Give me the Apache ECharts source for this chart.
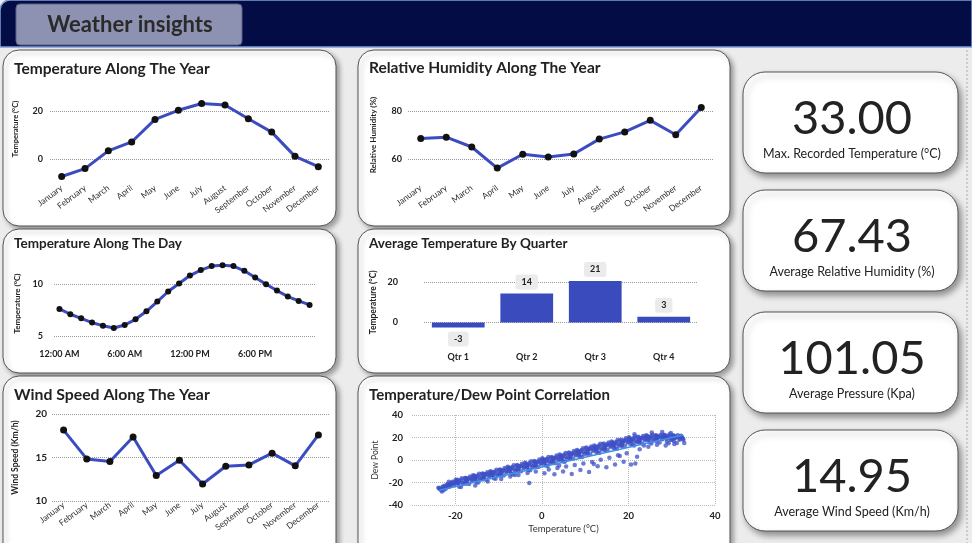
<!DOCTYPE html>
<html>
<head>
<meta charset="utf-8">
<script src="https://cdn.jsdelivr.net/npm/echarts@6/dist/echarts.min.js"></script>
<style>
  html, body { margin: 0; padding: 0; background: #ececec; }
  #main { width: 972px; height: 543px; }
</style>
</head>
<body>
<div id="main"></div>
<script>
// data
const months = ['January', 'February', 'March', 'April', 'May', 'June', 'July', 'August', 'September', 'October', 'November', 'December'];
const tempByMonth = [-7.3, -4.0, 3.4, 7.1, 16.5, 20.3, 23.1, 22.5, 16.8, 11.2, 1.1, -3.2];
const humidityByMonth = [68.5, 69.1, 65.0, 56.2, 62.0, 60.8, 62.1, 68.3, 71.3, 76.1, 70.1, 81.5];
const windByMonth = [18.15, 14.84, 14.53, 17.35, 12.92, 14.69, 11.96, 14.0, 14.15, 15.5, 14.04, 17.6];

const hours = ['12:00 AM', '1:00 AM', '2:00 AM', '3:00 AM', '4:00 AM', '5:00 AM', '6:00 AM', '7:00 AM', '8:00 AM', '9:00 AM', '10:00 AM', '11:00 AM',
  '12:00 PM', '1:00 PM', '2:00 PM', '3:00 PM', '4:00 PM', '5:00 PM', '6:00 PM', '7:00 PM', '8:00 PM', '9:00 PM', '10:00 PM', '11:00 PM'];
const tempByHour = [7.63, 7.11, 6.72, 6.30, 6.00, 5.78, 6.07, 6.62, 7.40, 8.34, 9.32, 10.10,
  10.87, 11.40, 11.79, 11.88, 11.79, 11.33, 10.68, 10.03, 9.41, 8.83, 8.41, 8.02];

const quarters = ['Qtr 1', 'Qtr 2', 'Qtr 3', 'Qtr 4'];
const tempByQuarter = [-2.6, 14.4, 20.6, 2.8];

// temperature / dew point cloud, sampled by eye along the band
const dewPoints = [
  [-23.9,-24.75],[-23.6,-25.65],[-23.3,-26.55],[-23.7,-25.1],[-23.1,-27.9],[-23.4,-26.0],
  [-22.8,-23.65],[-22.5,-22.9],[-22.2,-25.45],[-23.0,-24.2],[-22.4,-24.75],[-22.7,-26.85],
  [-21.7,-21.45],[-21.3,-22.7],[-21.9,-21.8],[-21.5,-24.0],[-21.1,-22.1],[-21.8,-23.35],
  [-21.0,-20.25],[-20.6,-19.3],[-20.2,-21.2],[-20.4,-19.95],[-20.8,-22.65],[-20.1,-20.8],
  [-19.9,-17.5],[-19.6,-19.3],[-19.3,-21.1],[-19.7,-18.2],[-19.1,-23.8],[-19.4,-20.0],
  [-18.8,-17.7],[-18.5,-16.2],[-18.2,-21.3],[-19.0,-18.8],[-18.4,-19.9],[-18.7,-24.1],
  [-17.7,-15.9],[-17.3,-18.4],[-17.9,-16.6],[-17.5,-21.0],[-17.1,-17.2],[-17.8,-19.7],
  [-17.0,-16.5],[-16.6,-14.6],[-16.2,-18.4],[-16.4,-15.9],[-16.8,-21.3],[-16.1,-17.6],
  [-15.9,-13.5],[-15.6,-15.3],[-15.3,-17.1],[-15.7,-14.2],[-15.1,-19.8],[-15.4,-16.0],
  [-14.8,-13.7],[-14.5,-12.2],[-14.2,-17.3],[-15.0,-14.8],[-14.4,-15.9],[-14.7,-20.1],
  [-13.7,-11.9],[-13.3,-14.4],[-13.9,-12.6],[-13.5,-17.0],[-13.1,-13.2],[-13.8,-15.7],
  [-13.0,-12.7],[-12.6,-10.8],[-12.2,-14.6],[-12.4,-12.1],[-12.8,-17.5],[-12.1,-13.8],
  [-11.9,-10.0],[-11.6,-11.8],[-11.3,-13.6],[-11.7,-10.7],[-11.1,-16.3],[-11.4,-12.5],
  [-10.8,-10.2],[-10.5,-8.7],[-10.2,-13.8],[-11.0,-11.3],[-10.4,-12.4],[-10.7,-16.6],
  [-9.7,-8.4],[-9.3,-10.9],[-9.9,-9.1],[-9.5,-13.5],[-9.1,-9.7],[-9.8,-12.2],
  [-9.0,-9.0],[-8.6,-7.1],[-8.2,-10.9],[-8.4,-8.4],[-8.8,-13.8],[-8.1,-10.1],
  [-7.9,-6.0],[-7.6,-7.8],[-7.3,-9.6],[-7.7,-6.7],[-7.1,-12.3],[-7.4,-8.5],
  [-6.8,-6.2],[-6.5,-4.7],[-6.2,-9.8],[-7.0,-7.3],[-6.4,-8.4],[-6.7,-12.6],
  [-5.7,-4.4],[-5.3,-6.9],[-5.9,-5.1],[-5.5,-9.5],[-5.1,-5.7],[-5.8,-8.2],
  [-5.0,-5.3],[-4.6,-3.4],[-4.2,-7.2],[-4.4,-4.7],[-4.8,-10.1],[-4.1,-6.4],
  [-3.9,-2.5],[-3.6,-4.3],[-3.3,-6.1],[-3.7,-3.2],[-3.1,-8.8],[-3.4,-5.0],
  [-2.8,-2.7],[-2.5,-1.2],[-2.2,-6.3],[-3.0,-3.8],[-2.4,-4.9],[-2.7,-9.1],
  [-1.7,-0.9],[-1.3,-3.4],[-1.9,-1.6],[-1.5,-6.0],[-1.1,-2.2],[-1.8,-4.7],
  [-1.0,-1.5],[-0.6,0.4],[-0.2,-3.4],[-0.4,-0.9],[-0.8,-6.3],[-0.1,-2.6],
  [0.1,1.5],[0.4,-0.3],[0.7,-2.1],[0.3,0.8],[0.9,-4.8],[0.6,-1.0],
  [1.2,1.1],[1.5,2.6],[1.8,-2.5],[1.0,0.0],[1.6,-1.1],[1.3,-5.3],
  [2.3,2.6],[2.7,0.1],[2.1,1.9],[2.5,-2.5],[2.9,1.3],[2.2,-1.2],
  [3.0,2.0],[3.4,3.9],[3.8,0.1],[3.6,2.6],[3.2,-2.8],[3.9,0.9],
  [4.1,5.0],[4.4,3.2],[4.7,1.4],[4.3,4.3],[4.9,-1.3],[4.6,2.5],
  [5.2,4.8],[5.5,6.3],[5.8,1.2],[5.0,3.7],[5.6,2.6],[5.3,-1.6],
  [6.3,6.6],[6.7,4.1],[6.1,5.9],[6.5,1.5],[6.9,5.3],[6.2,2.8],
  [7.0,6.1],[7.4,8.0],[7.8,4.2],[7.6,6.7],[7.2,1.3],[7.9,5.0],
  [8.1,9.0],[8.4,7.2],[8.7,5.4],[8.3,8.3],[8.9,2.7],[8.6,6.5],
  [9.2,9.0],[9.5,10.5],[9.8,5.4],[9.0,7.9],[9.6,6.8],[9.3,2.6],
  [10.3,11.1],[10.7,8.6],[10.1,10.4],[10.5,6.0],[10.9,9.8],[10.2,7.3],
  [11.0,10.2],[11.4,12.1],[11.8,8.3],[11.6,10.8],[11.2,5.4],[11.9,9.1],
  [12.1,13.0],[12.4,11.2],[12.7,9.4],[12.3,12.3],[12.9,6.7],[12.6,10.5],
  [13.2,12.9],[13.5,14.4],[13.8,9.3],[13.0,11.8],[13.6,10.7],[13.3,6.5],
  [14.3,14.6],[14.7,12.1],[14.1,13.9],[14.5,9.5],[14.9,13.3],[14.2,10.8],
  [15.0,13.7],[15.4,15.6],[15.8,11.8],[15.6,14.3],[15.2,8.9],[15.9,12.6],
  [16.1,16.5],[16.4,14.7],[16.7,12.9],[16.3,15.8],[16.9,10.2],[16.6,14.0],
  [17.2,16.3],[17.5,17.8],[17.8,12.7],[17.0,15.2],[17.6,14.1],[17.3,9.9],
  [18.3,18.1],[18.7,15.6],[18.1,17.4],[18.5,13.0],[18.9,16.8],[18.2,14.3],
  [19.0,17.4],[19.4,19.3],[19.8,15.5],[19.6,18.0],[19.2,12.6],[19.9,16.3],
  [20.1,20.3],[20.4,18.5],[20.7,16.7],[20.3,19.6],[20.9,14.0],[20.6,17.8],
  [21.2,19.3],[21.5,20.8],[21.8,15.7],[21.0,18.2],[21.6,17.1],[21.3,12.9],
  [22.3,20.6],[22.7,18.1],[22.1,19.9],[22.5,15.5],[22.9,19.3],[22.2,16.8],
  [23.0,19.5],[23.4,21.4],[23.8,17.6],[23.6,20.1],[23.2,14.7],[23.9,18.4],
  [24.1,22.0],[24.4,20.2],[24.7,18.4],[24.3,21.3],[24.9,15.7],[24.6,19.5],
  [25.2,21.0],[25.5,22.5],[25.8,17.4],[25.0,19.9],[25.6,18.8],[25.3,14.6],
  [26.3,22.1],[26.7,19.6],[26.1,21.4],[26.5,17.0],[26.9,20.8],[26.2,18.3],
  [27.0,20.3],[27.4,22.2],[27.8,18.4],[27.6,20.9],[27.2,15.5],[27.9,19.2],
  [28.1,22.5],[28.4,20.7],[28.7,18.9],[28.3,21.8],[28.9,16.2],[28.6,20.0],
  [29.2,21.3],[29.5,22.8],[29.8,17.7],[29.0,20.2],[29.6,19.1],[29.3,14.9],
  [30.3,22.1],[30.7,19.6],[30.1,21.4],[30.5,17.0],[30.9,20.8],[30.2,18.3],
  [31.0,20.0],[31.4,21.9],[31.8,18.1],[31.6,20.6],[31.2,15.2],[31.9,18.9],
  [32.1,21.5],[32.4,19.7],[32.7,17.9],[32.3,20.8],[32.9,15.2],[32.6,19.0],
  // filling in the middle of the band
  [-21.5,-22.3],[-21.5,-19.3],[-19.5,-20.6],[-19.5,-17.6],[-17.5,-18.9],[-17.5,-15.9],
  [-15.5,-17.1],[-15.5,-14.1],[-13.5,-15.4],[-13.5,-12.4],[-11.5,-13.6],[-11.5,-10.6],
  [-9.5,-11.9],[-9.5,-8.9],[-7.5,-10.1],[-7.5,-7.1],[-5.5,-8.4],[-5.5,-5.4],
  [-3.5,-6.7],[-3.5,-3.7],[-1.5,-4.9],[-1.5,-1.9],[0.5,-3.2],[0.5,-0.2],
  [2.5,-1.4],[2.5,1.6],[4.5,0.3],[4.5,3.3],[6.5,2.1],[6.5,5.1],
  [8.5,3.8],[8.5,6.8],[10.5,5.6],[10.5,8.6],[12.5,7.3],[12.5,10.3],
  [14.5,9.0],[14.5,12.0],[16.5,10.8],[16.5,13.8],[18.5,12.5],[18.5,15.5],
  [20.5,14.3],[20.5,17.3],[22.5,16.0],[22.5,19.0],[24.5,17.8],[24.5,20.8],
  [26.5,19.5],[26.5,21.5],[28.5,20.5],[28.5,22.0],[30.5,19.5],[30.5,21.5],
  // sparse points under the band
  [-15.4,-22.6],[-12.5,-19.2],[-9.4,-16.8],[-7.3,-14.7],[-6.2,-13.4],[-5.4,-13.3],[-3.3,-11.6],
  [-2.9,-20.5],[-1.4,-10.2],[0.6,-11.8],[1.6,-8.5],[2.9,-12.6],[3.6,-7.2],[4.0,-4.8],[4.9,-10.3],
  [5.6,-5.8],[6.9,-12.4],[7.6,-4.5],[8.9,-8.8],[9.6,-3.2],[10.9,-10.6],[11.6,-1.7],[12.0,-3.5],
  [12.9,-5.6],[13.6,0.2],[14.9,-6.5],[15.6,2.0],[16.9,-3.9],[17.6,4.2],[18.0,3.5],[18.9,-1.5],
  [19.6,6.0],[20.6,-4.1],[21.6,-3.0],[22.0,2.8],[22.6,9.5],[23.6,13.0],[24.6,11.8],[26.6,13.5],
  [28.6,12.8],[30.6,14.2],[27.8,25.0],[25.4,24.4],[29.8,24.1],[21.4,22.8]
];
const dewTrend = [[-23.7, -26.8], [32.6, 22.3]];

const kpiValues = ['33.00', '67.43', '101.05', '14.95'];
const kpiLabels = ['Max. Recorded Temperature (°C)', 'Average Relative Humidity (%)', 'Average Pressure (Kpa)', 'Average Wind Speed (Km/h)'];

const FONT = 'Lato, "Noto Sans", sans-serif';
const LINE_BLUE = '#3b4cc0';
const DOTS = '#9a9a9a';

// helpers for the repeated axis bits
function showOnly(list) {
  return v => (list.indexOf(v) >= 0 ? v : '');
}
function yAxis(grid, opt) {
  return Object.assign({
    type: 'value',
    gridIndex: grid,
    axisLine: { show: false },
    axisTick: { show: false },
    nameLocation: 'middle',
    nameTextStyle: { fontFamily: FONT, fontSize: 8, fontWeight: 'bold', color: '#222' },
    axisLabel: { fontFamily: FONT, fontSize: 9, fontWeight: 'bold', color: '#222', margin: 7 },
    splitLine: { lineStyle: { type: 'dotted', color: DOTS } }
  }, opt);
}
function catAxis(grid, data, opt) {
  return Object.assign({
    type: 'category',
    gridIndex: grid,
    data: data,
    axisLine: { show: false, onZero: false },
    axisTick: { show: false },
    splitLine: { show: false },
    axisLabel: { interval: 0, rotate: 37, fontFamily: FONT, fontSize: 8.5, color: '#333', margin: 4 }
  }, opt);
}
function lineSeries(idx, data, size) {
  return {
    type: 'line',
    xAxisIndex: idx,
    yAxisIndex: idx,
    data: data,
    symbol: 'circle',
    symbolSize: size,
    itemStyle: { color: '#111' },
    lineStyle: { color: LINE_BLUE, width: 3 },
    clip: false,
    z: 3
  };
}

// panel backgrounds, titles, header and kpi cards
const panels = [
  { x: 3, y: 50, w: 333, h: 176, title: 'Temperature Along The Year', ty: 69, fs: 15.5 },
  { x: 358, y: 50, w: 372, h: 176, title: 'Relative Humidity Along The Year', ty: 68, fs: 15.5 },
  { x: 3, y: 229, w: 333, h: 144, title: 'Temperature Along The Day', ty: 244, fs: 13.5 },
  { x: 358, y: 229, w: 372, h: 144, title: 'Average Temperature By Quarter', ty: 244, fs: 13.5 },
  { x: 3, y: 376, w: 333, h: 190, title: 'Wind Speed Along The Year', ty: 395, fs: 15.8 },
  { x: 358, y: 376, w: 372, h: 190, title: 'Temperature/Dew Point Correlation', ty: 395, fs: 15 }
];
const kpiTops = [72, 190, 312, 430];

const elements = [];
elements.push({
  type: 'rect', z: -5,
  shape: { x: 0, y: 0, width: 972, height: 47, r: [10, 0, 0, 0] },
  style: { fill: '#040c46', stroke: '#7d9fd6', lineWidth: 1.5 }
});
elements.push({
  type: 'rect', z: -4,
  shape: { x: 16, y: 4, width: 226, height: 41, r: 4 },
  style: { fill: '#8e92b2', stroke: '#5b6088', lineWidth: 1 }
});
elements.push({
  type: 'text', z: 10, x: 130, y: 25,
  style: { text: 'Weather insights', font: 'bold 22px ' + FONT, fill: '#2a2a2a', align: 'center', verticalAlign: 'middle' }
});
elements.push({
  type: 'line', z: -5,
  shape: { x1: 967, y1: 50, x2: 967, y2: 543 },
  style: { stroke: '#aaa', lineWidth: 1, lineDash: [2, 2] }
});
panels.forEach(p => {
  elements.push({
    type: 'rect', z: -5,
    shape: { x: p.x, y: p.y, width: p.w, height: p.h, r: 16 },
    style: { fill: '#fff', stroke: '#555', lineWidth: 1, shadowBlur: 5, shadowOffsetX: 3, shadowOffsetY: 3, shadowColor: 'rgba(0,0,0,0.35)' }
  });
  elements.push({
    type: 'text', z: 10, x: p.x + 11, y: p.ty,
    style: { text: p.title, font: 'bold ' + p.fs + 'px ' + FONT, fill: '#222', verticalAlign: 'middle' }
  });
});
kpiTops.forEach((top, i) => {
  elements.push({
    type: 'rect', z: -5,
    shape: { x: 743, y: top, width: 215, height: 101, r: 22 },
    style: { fill: '#fff', stroke: '#555', lineWidth: 1, shadowBlur: 6, shadowOffsetX: 3, shadowOffsetY: 4, shadowColor: 'rgba(0,0,0,0.4)' }
  });
  elements.push({
    type: 'text', z: 10, x: 852, y: top + 47,
    style: { text: kpiValues[i], font: '47px ' + FONT, fill: '#222', align: 'center', verticalAlign: 'middle' }
  });
  elements.push({
    type: 'text', z: 10, x: 852, y: top + 82,
    style: { text: kpiLabels[i], font: '12.5px ' + FONT, fill: '#222', align: 'center', verticalAlign: 'middle' }
  });
});

const option = {
  backgroundColor: '#ececec',
  animation: false,
  textStyle: { fontFamily: FONT },
  graphic: { elements: elements },
  grid: [
    { left: 50, top: 87, width: 280, height: 96, outerBoundsMode: 'none' },
    { left: 408, top: 87, width: 306, height: 96, outerBoundsMode: 'none' },
    { left: 54, top: 233, width: 261, height: 103, outerBoundsMode: 'none' },
    { left: 424, top: 262, width: 274, height: 80.5, outerBoundsMode: 'none' },
    { left: 52, top: 414, width: 278, height: 87, outerBoundsMode: 'none' },
    { left: 412, top: 415, width: 303, height: 90, outerBoundsMode: 'none' }
  ],
  xAxis: [
    catAxis(0, months),
    catAxis(1, months, { axisLabel: { interval: 0, rotate: 36, fontFamily: FONT, fontSize: 8.5, color: '#333', margin: 4 } }),
    catAxis(2, hours, { axisLabel: { interval: 5, fontFamily: FONT, fontSize: 9, fontWeight: 'bold', color: '#222', margin: 14 } }),
    catAxis(3, quarters, { axisLabel: { fontFamily: FONT, fontSize: 9, fontWeight: 'bold', color: '#222', margin: 10 } }),
    catAxis(4, months, { axisLabel: { interval: 0, rotate: 37, fontFamily: FONT, fontSize: 8.5, color: '#333', margin: 3 } }),
    {
      type: 'value', gridIndex: 5, min: -30, max: 40, interval: 10,
      axisLine: { show: false, onZero: false }, axisTick: { show: false },
      axisLabel: { fontFamily: FONT, fontSize: 9.5, fontWeight: 'bold', color: '#222', margin: 6, formatter: showOnly([-20, 0, 20, 40]) },
      splitLine: { lineStyle: { type: 'dotted', color: ['transparent', '#bbb', 'transparent', '#bbb', 'transparent', '#bbb', 'transparent', '#bbb'] } },
      name: 'Temperature (°C)', nameLocation: 'middle', nameGap: 19,
      nameTextStyle: { fontFamily: FONT, fontSize: 9.5, color: '#333' }
    }
  ],
  yAxis: [
    yAxis(0, {
      min: -10, max: 30, interval: 10, name: 'Temperature (°C)', nameGap: 30,
      nameTextStyle: { fontFamily: FONT, fontSize: 7.5, fontWeight: 'bold', color: '#222', padding: [0, 0, 0, 12] },
      axisLabel: { fontFamily: FONT, fontSize: 9, fontWeight: 'bold', color: '#222', margin: 7, formatter: showOnly([0, 20]) },
      splitLine: { lineStyle: { type: 'dotted', color: ['transparent', DOTS, 'transparent', DOTS, 'transparent'] } }
    }),
    yAxis(1, {
      min: 50, max: 90, interval: 10, name: 'Relative Humidity (%)', nameGap: 31,
      axisLabel: { fontFamily: FONT, fontSize: 9, fontWeight: 'bold', color: '#222', margin: 6, formatter: showOnly([60, 80]) },
      splitLine: { lineStyle: { type: 'dotted', color: ['transparent', DOTS, 'transparent', DOTS, 'transparent'] } }
    }),
    yAxis(2, {
      min: 5, max: 15, interval: 5, name: 'Temperature (°C)', nameGap: 33,
      nameTextStyle: { fontFamily: FONT, fontSize: 8, fontWeight: 'bold', color: '#222', padding: [0, 38, 0, 0] },
      axisLabel: { fontFamily: FONT, fontSize: 9, fontWeight: 'bold', color: '#222', margin: 11, formatter: showOnly([5, 10]) },
      splitLine: { lineStyle: { type: 'dotted', color: [DOTS, DOTS, 'transparent'] } }
    }),
    yAxis(3, {
      min: -10, max: 30, interval: 10, name: 'Temperature (°C)', nameGap: 46,
      nameTextStyle: { fontFamily: FONT, fontSize: 8.5, fontWeight: 'bold', color: '#222' },
      axisLabel: { fontFamily: FONT, fontSize: 9, fontWeight: 'bold', color: '#222', margin: 26, formatter: showOnly([0, 20]) },
      splitLine: { lineStyle: { type: 'dotted', color: ['transparent', DOTS, 'transparent', DOTS, 'transparent'] } }
    }),
    yAxis(4, {
      min: 10, max: 20, interval: 5, name: 'Wind Speed (Km/h)', nameGap: 32,
      nameTextStyle: { fontFamily: FONT, fontSize: 8.5, fontWeight: 'bold', color: '#222' },
      axisLabel: { fontFamily: FONT, fontSize: 10, fontWeight: 'bold', color: '#222', margin: 5 }
    }),
    yAxis(5, {
      min: -40, max: 40, interval: 20, name: 'Dew Point', nameGap: 32,
      nameTextStyle: { fontFamily: FONT, fontSize: 8.5, color: '#333' },
      axisLabel: { fontFamily: FONT, fontSize: 9.5, fontWeight: 'bold', color: '#222', margin: 9 },
      splitLine: { lineStyle: { type: 'dotted', color: '#bbb' } }
    })
  ],
  series: [
    lineSeries(0, tempByMonth, 7),
    lineSeries(1, humidityByMonth, 7),
    lineSeries(2, tempByHour, 6),
    {
      type: 'bar',
      xAxisIndex: 3,
      yAxisIndex: 3,
      barCategoryGap: '23%',
      itemStyle: { color: '#3a4bbd' },
      data: tempByQuarter.map(v => ({ value: v, label: { position: v < 0 ? 'bottom' : 'top' } })),
      label: {
        show: true,
        distance: 4,
        formatter: p => Math.round(p.value),
        fontFamily: FONT, fontSize: 9, fontWeight: 'bold', color: '#222',
        backgroundColor: '#ebebeb', borderRadius: 3, padding: [3, 6]
      }
    },
    lineSeries(4, windByMonth, 7),
    {
      type: 'scatter',
      xAxisIndex: 5,
      yAxisIndex: 5,
      data: dewPoints,
      symbolSize: 4.5,
      itemStyle: { color: '#3d4fc6', opacity: 0.75 }
    },
    {
      type: 'line',
      xAxisIndex: 5,
      yAxisIndex: 5,
      data: dewTrend,
      symbol: 'none',
      lineStyle: { color: '#3d8fe6', width: 1.5 },
      z: 4
    }
  ]
};

const chart = echarts.init(document.getElementById('main'), null, { renderer: 'canvas' });
chart.setOption(option);
</script>
</body>
</html>
